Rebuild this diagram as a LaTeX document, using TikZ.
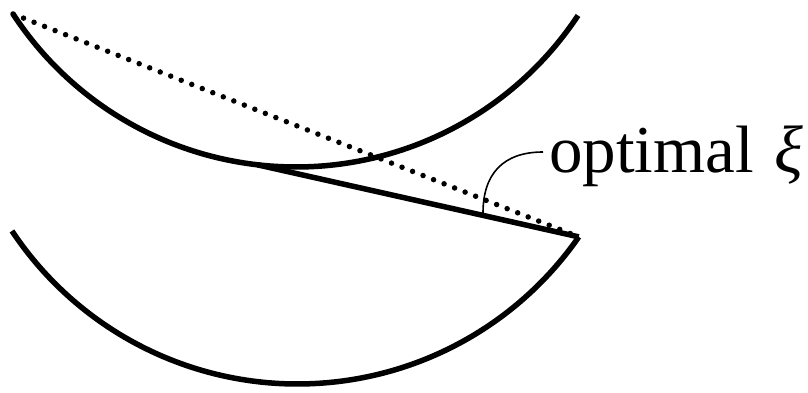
\documentclass[tikz,border=0pt]{standalone}
\usepackage{fontspec}
\setmainfont{Liberation Serif}
\usetikzlibrary{calc}
\begin{document}
\begin{tikzpicture}[x=1pt,y=1pt,
  curve/.style={line width=5.5pt},
  dotline/.style={line width=5.5pt,line cap=round,dash pattern=on 0pt off 11.3pt},
  leader/.style={line width=1.6pt},
  lbl/.style={inner sep=0pt,anchor=base west,font=\fontsize{67}{72}\selectfont}]
\useasboundingbox (0,0) rectangle (808,392);
% upper arc
\coordinate (UC) at (296,563.2);
\coordinate (UL) at ($(UC)+(213.2:338.2)$);
\coordinate (US) at ($(UC)+(263.4:338.2)$);
\draw[curve] (UL) arc[start angle=213.2,end angle=326.5,radius=338.2];
% lower arc
\coordinate (LC) at (297.4,350.7);
\coordinate (LL) at ($(LC)+(213.6:342.7)$);
\coordinate (LR) at ($(LC)+(325.2:342.7)$);
\draw[curve] (LL) arc[start angle=213.6,end angle=325.2,radius=342.7];
% lines
\draw[dotline] (UL) -- (LR);
\draw[curve,line join=miter] (US) -- (LR);
% label
\node[lbl] (lab) at (549,220) {optimal\hspace{0.3em}\textit{ξ}};
\coordinate (lt) at (543,240);
\coordinate (lb) at (483,179);
\draw[leader] (lt) .. controls (503,240) and (483,218) .. (lb);
\end{tikzpicture}
\end{document}
